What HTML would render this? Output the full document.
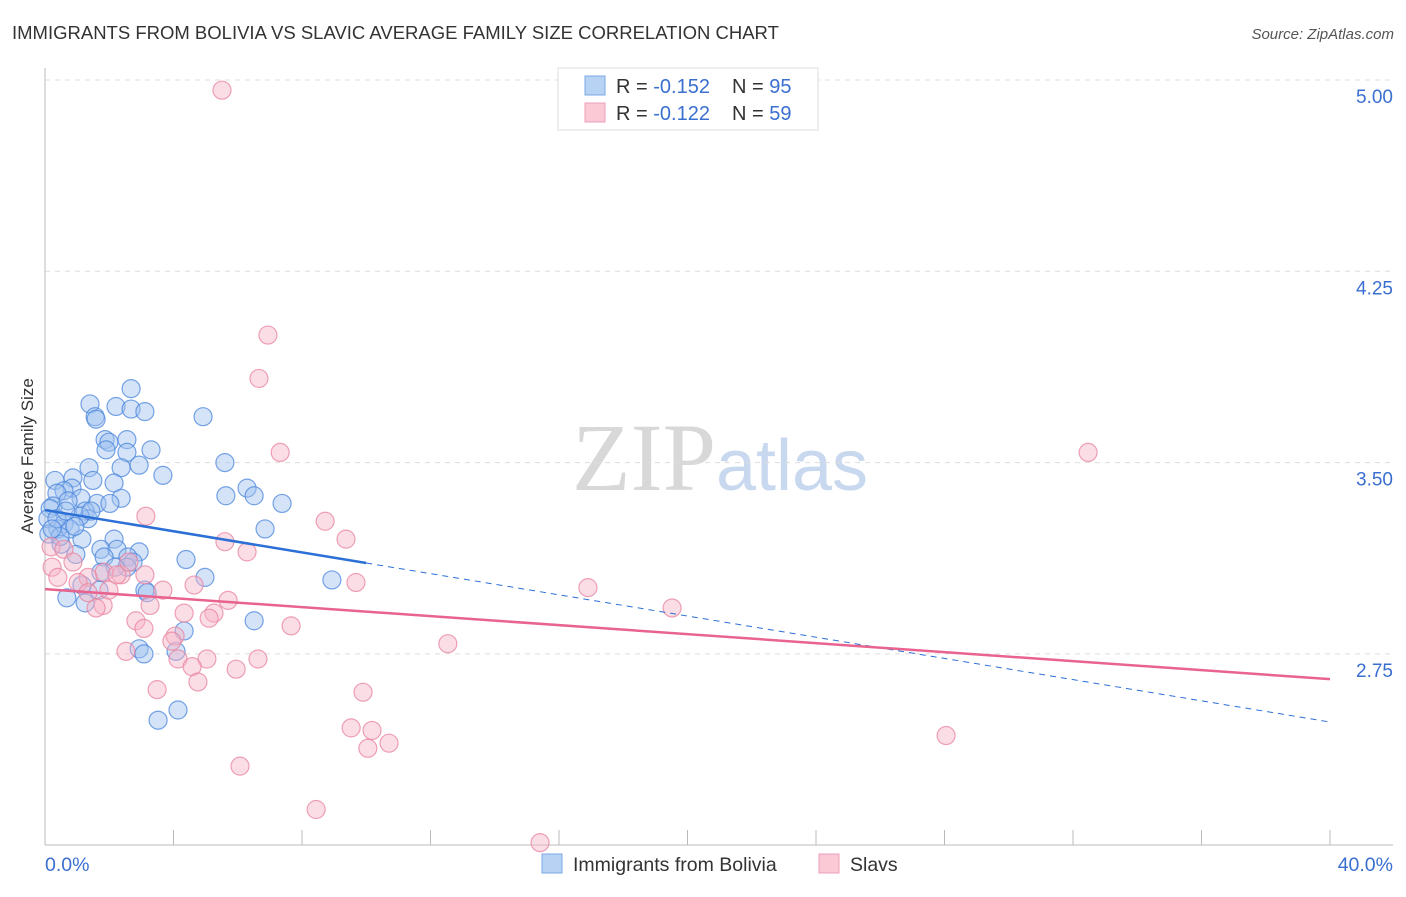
<!DOCTYPE html>
<html><head><meta charset="utf-8"><style>
body{margin:0;background:#fff;font-family:"Liberation Sans",sans-serif}
</style></head><body>
<svg id="chart" width="1406" height="892" xmlns="http://www.w3.org/2000/svg" font-family="Liberation Sans, sans-serif">
<text x="12" y="39" font-size="18.5" fill="#333">IMMIGRANTS FROM BOLIVIA VS SLAVIC AVERAGE FAMILY SIZE CORRELATION CHART</text>
<text x="1394" y="39" font-size="15" fill="#555" text-anchor="end" font-style="italic">Source: ZipAtlas.com</text>
<text x="720" y="490" font-size="96" text-anchor="middle" fill="#d8d8d8" font-family="Liberation Serif, serif">ZIP<tspan fill="#c8d8ee" font-family="Liberation Sans, sans-serif" font-size="72">atlas</tspan></text>
<g id="grid"></g>
<g id="axes"></g>
<g id="pts"></g>
<g id="trend"></g>
<text transform="translate(33,456) rotate(-90)" font-size="17" fill="#333" text-anchor="middle">Average Family Size</text>
<g>
<rect x="558" y="68" width="260" height="62" fill="#fff" stroke="#ddd"/>
<rect x="585" y="76" width="20" height="19" fill="#b8d2f4" stroke="#7aa8e6"/>
<rect x="585" y="103" width="20" height="19" fill="#fbc8d6" stroke="#eea0b8"/>
<text x="616" y="93" font-size="20" fill="#333">R = <tspan fill="#3a6fd0">-0.152</tspan><tspan x="732">N = </tspan><tspan fill="#3a6fd0">95</tspan></text>
<text x="616" y="120" font-size="20" fill="#333">R = <tspan fill="#3a6fd0">-0.122</tspan><tspan x="732">N = </tspan><tspan fill="#3a6fd0">59</tspan></text>
</g>
<g>
<rect x="542" y="854" width="20" height="19" fill="#b8d2f4" stroke="#7aa8e6"/>
<text x="573" y="871" font-size="19.5" fill="#333">Immigrants from Bolivia</text>
<rect x="819" y="854" width="20" height="19" fill="#fbc8d6" stroke="#eea0b8"/>
<text x="850" y="871" font-size="19.5" fill="#333">Slavs</text>
</g>
</svg>
<script>
const blueX=[2.68,1.40,2.21,2.68,3.11,1.56,1.59,4.92,1.87,2.55,1.99,1.90,3.30,2.55,5.60,2.93,1.37,2.37,0.87,3.67,1.49,2.15,0.31,0.84,0.59,0.37,6.29,5.63,6.51,2.37,7.38,1.62,1.12,2.02,0.25,0.72,0.16,1.25,1.34,1.09,0.59,0.09,6.85,0.40,0.78,0.12,1.15,0.50,2.15,0.96,1.74,2.93,2.24,4.39,2.58,1.84,2.74,2.55,2.18,4.98,8.93,1.15,1.68,3.11,3.18,0.68,1.25,6.51,4.33,2.93,3.08,4.08,4.14,3.52,0.37,0.65,0.93,1.43,0.47,0.22,1.74];
const blueY=[3.79,3.73,3.72,3.71,3.70,3.68,3.67,3.68,3.59,3.59,3.58,3.55,3.55,3.54,3.50,3.49,3.48,3.48,3.44,3.45,3.43,3.42,3.43,3.40,3.39,3.38,3.40,3.37,3.37,3.36,3.34,3.34,3.36,3.34,3.33,3.35,3.32,3.31,3.28,3.29,3.26,3.28,3.24,3.24,3.24,3.22,3.20,3.18,3.20,3.14,3.16,3.15,3.16,3.12,3.13,3.13,3.11,3.09,3.09,3.05,3.04,3.02,3.00,3.00,2.99,2.97,2.95,2.88,2.84,2.77,2.75,2.76,2.53,2.49,3.28,3.31,3.25,3.31,3.21,3.24,3.07];
const pinkX=[5.51,6.94,6.66,7.32,32.47,3.14,8.72,9.37,5.60,0.19,6.29,0.59,0.87,1.84,2.37,0.22,0.40,1.34,1.03,2.24,9.68,4.64,3.67,5.70,1.81,1.59,3.27,16.90,19.52,2.83,5.26,4.33,5.11,7.66,3.08,4.05,3.95,12.54,2.52,4.14,5.04,6.63,4.58,5.95,4.76,3.49,9.90,9.53,10.18,10.05,10.71,28.05,6.07,8.44,15.41,1.99,1.34,2.61,3.11];
const pinkY=[4.96,4.00,3.83,3.54,3.54,3.29,3.27,3.20,3.19,3.17,3.15,3.16,3.11,3.07,3.06,3.09,3.05,3.05,3.03,3.06,3.03,3.02,3.00,2.96,2.94,2.93,2.94,3.01,2.93,2.88,2.91,2.91,2.89,2.86,2.85,2.82,2.80,2.79,2.76,2.73,2.73,2.73,2.70,2.69,2.64,2.61,2.60,2.46,2.45,2.38,2.40,2.43,2.31,2.14,2.01,3.00,2.99,3.11,3.06];
const blueTrend=[3.314,2.483];
const blueSolidEnd=10.0;
const pinkTrend=[3.004,2.651];
const yTicks=[5.00,4.25,3.50,2.75];
const xTickVals=[0,4,8,12,16,20,24,28,32,36,40];
const NS="http://www.w3.org/2000/svg";
function sx(v){return 45+v/40*1285;}
function sy(v){return 80+(5-v)*255.07;}
function mk(tag,attrs,parent){const e=document.createElementNS(NS,tag);for(const k in attrs)e.setAttribute(k,attrs[k]);document.getElementById(parent).appendChild(e);return e;}
yTicks.forEach(t=>{
 const l=mk('line',{x1:45,x2:1393,y1:sy(t),y2:sy(t),stroke:'#ddd','stroke-dasharray':'5,5'},'grid');
 
 
 const tx=mk('text',{x:1393,y:sy(t)+23,'font-size':19,fill:'#3a6fd0','text-anchor':'end'},'grid');
 tx.textContent=t.toFixed(2);
 
 
});
let ax=mk('line',{x1:45,x2:45,y1:68,y2:845,stroke:'#bbb'},'axes');


ax=mk('line',{x1:45,x2:1393,y1:845,y2:845,stroke:'#bbb'},'axes');


xTickVals.forEach(t=>{
 const l=mk('line',{x1:sx(t),x2:sx(t),y1:830,y2:845,stroke:'#bbb'},'axes');
 
 
});
[[0,'0.0%','start',45],[40,'40.0%','end',1393]].forEach(a=>{
 const tx=mk('text',{x:a[3],y:871,'font-size':19.5,fill:'#3a6fd0','text-anchor':a[2]},'axes');
 tx.textContent=a[1];
 
 
});
function pts(X,Y,fill,stroke,name){X.forEach((x,i)=>{
 const c=mk('circle',{cx:sx(x),cy:sy(Y[i]),r:9,fill:fill,'fill-opacity':0.45,stroke:stroke,'stroke-opacity':0.75,'stroke-width':1.2},'pts');
 
 
});}
pts(blueX,blueY,'#9fc2ef','#4a86dc','point-bolivia');
pts(pinkX,pinkY,'#f6b3c7','#e8839f','point-slavs');
function ty(tr,x){return tr[0]+(tr[1]-tr[0])*x/40;}
let l=mk('line',{x1:sx(0),y1:sy(ty(blueTrend,0)),x2:sx(blueSolidEnd),y2:sy(ty(blueTrend,blueSolidEnd)),stroke:'#2c6fd6','stroke-width':2.5},'trend');


l=mk('line',{x1:sx(blueSolidEnd),y1:sy(ty(blueTrend,blueSolidEnd)),x2:sx(40),y2:sy(ty(blueTrend,40)),stroke:'#2c6fd6','stroke-width':1,'stroke-dasharray':'6,5'},'trend');


l=mk('line',{x1:sx(0),y1:sy(ty(pinkTrend,0)),x2:sx(40),y2:sy(ty(pinkTrend,40)),stroke:'#e8648f','stroke-width':2.5},'trend');


</script>
</body></html>
